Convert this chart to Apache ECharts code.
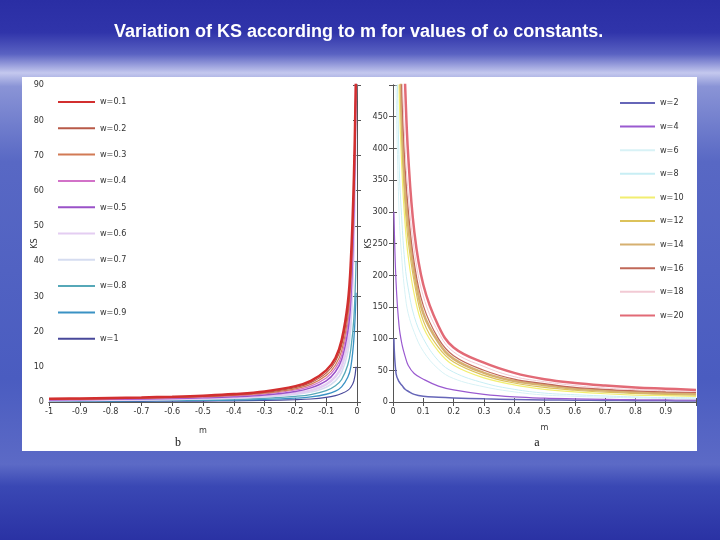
<!DOCTYPE html>
<html>
<head>
<meta charset="utf-8">
<script src="https://cdn.jsdelivr.net/npm/echarts@6/dist/echarts.min.js"></script>
<style>
  html, body { margin: 0; padding: 0; }
  #chart { width: 720px; height: 540px; }
</style>
</head>
<body>
<div id="chart"></div>
<script>
// KS vs m, two panels (b: m < 0, a: m > 0)

const TITLE = 'Variation of KS according to m for values of \u03c9 constants.';

// panel b : m from -1 to 0
const mLeft = [-1, -0.9, -0.8, -0.7, -0.6, -0.5, -0.4, -0.3, -0.2, -0.15, -0.1, -0.07, -0.05, -0.03, -0.02, -0.01, -0.003];
const wLeft = ['w=0.1', 'w=0.2', 'w=0.3', 'w=0.4', 'w=0.5', 'w=0.6', 'w=0.7', 'w=0.8', 'w=0.9', 'w=1'];
const ksW01 = [0.9, 1.0, 1.13, 1.29, 1.5, 1.8, 2.25, 3.0, 4.5, 6.0, 9.0, 12.5, 17.5, 28, 40, 64, 95];
const ksW02 = [0.82, 0.91, 1.03, 1.17, 1.37, 1.64, 2.05, 2.73, 4.1, 5.5, 8.2, 11.5, 16, 26, 37, 62, 95];
const ksW03 = [0.75, 0.83, 0.94, 1.07, 1.25, 1.5, 1.88, 2.5, 3.75, 5.0, 7.5, 10.5, 14.5, 24, 35, 60, 95];
const ksW04 = [0.68, 0.76, 0.85, 0.97, 1.13, 1.36, 1.7, 2.27, 3.4, 4.5, 6.8, 9.6, 13.2, 22, 32, 57, 94];
const ksW05 = [0.6, 0.67, 0.75, 0.86, 1.0, 1.2, 1.5, 2.0, 3.0, 4.0, 6.0, 8.6, 12, 20, 29, 54, 93];
const ksW06 = [0.5, 0.56, 0.63, 0.71, 0.83, 1.0, 1.25, 1.67, 2.5, 3.3, 5.0, 7.2, 10, 17, 25, 50, 92];
const ksW07 = [0.42, 0.47, 0.53, 0.6, 0.7, 0.84, 1.05, 1.4, 2.1, 2.8, 4.2, 6.0, 8.4, 14, 21, 45, 91];
const ksW08 = [0.32, 0.36, 0.4, 0.46, 0.53, 0.64, 0.8, 1.07, 1.6, 2.1, 3.2, 4.6, 6.4, 10.5, 15, 24, 40];
const ksW09 = [0.22, 0.24, 0.28, 0.31, 0.37, 0.44, 0.55, 0.73, 1.1, 1.45, 2.2, 3.1, 4.3, 7, 10, 18, 31];
const ksW10 = [0.15, 0.16, 0.18, 0.2, 0.23, 0.27, 0.33, 0.45, 0.65, 0.85, 1.3, 1.8, 2.4, 3.3, 4.2, 6, 10];

// panel a : m from 0 to 1 (null = off the top of the plot)
const mRight = [0.003, 0.01, 0.02, 0.03, 0.04, 0.05, 0.07, 0.1, 0.15, 0.2, 0.3, 0.4, 0.5, 0.6, 0.7, 0.8, 0.9, 1.0];
const wRight = ['w=2', 'w=4', 'w=6', 'w=8', 'w=10', 'w=12', 'w=14', 'w=16', 'w=18', 'w=20'];
const ksW2  = [100, 45, 32, 26, 20, 17, 12, 9, 7.5, 6.5, 5, 4, 3.2, 2.8, 2.4, 2, 1.8, 1.5];
const ksW4  = [300, 190, 120, 90, 72, 58, 45, 36, 25, 19, 12, 8, 6, 5, 4.2, 3.6, 3.2, 3];
const ksW6  = [null, 500, 300, 220, 170, 140, 110, 80, 52, 37, 24, 16, 11, 9, 7.5, 6.5, 5.5, 5];
const ksW8  = [null, 650, 380, 280, 215, 180, 135, 100, 65, 47, 30, 20, 14, 11.5, 9.5, 8, 7, 6.5];
const ksW10r = [null, 900, 500, 360, 280, 230, 170, 118, 80, 58, 38, 27, 20, 16, 13, 11, 10, 9];
const ksW12 = [null, null, 560, 400, 310, 255, 190, 128, 86, 63, 42, 30, 23, 18.5, 15.5, 13.5, 12, 11];
const ksW14 = [null, null, 620, 440, 340, 280, 205, 140, 94, 68, 46, 33, 26.5, 21, 18, 15.5, 14, 13];
const ksW16 = [null, null, 700, 480, 370, 305, 220, 152, 100, 73, 50, 36, 29, 23, 20, 17.5, 16, 15];
const ksW18 = [null, null, 780, 530, 400, 330, 240, 167, 110, 79, 56, 40, 32, 26, 22, 19.5, 18, 17];
const ksW20 = [null, null, 900, 640, 500, 390, 270, 185, 120, 86, 62, 46, 36, 30, 26, 23, 21, 19];

const leftVals = [ksW01, ksW02, ksW03, ksW04, ksW05, ksW06, ksW07, ksW08, ksW09, ksW10];
const rightVals = [ksW2, ksW4, ksW6, ksW8, ksW10r, ksW12, ksW14, ksW16, ksW18, ksW20];

const leftColors = ['#d22f2f', '#b85a48', '#d27a55', '#d272c8', '#9a52c8', '#e4cdf2', '#d5dcf0', '#56a8b8', '#3a92c4', '#48489a'];
const leftWidths = [2.5, 1.2, 1.2, 1.2, 1.5, 2.5, 1.5, 1.3, 1.3, 1.2];
const rightColors = ['#6666b8', '#9a5ad0', '#d8f2f6', '#c8eef4', '#f2ee70', '#dcc25a', '#d6b070', '#c06858', '#f2cad4', '#e26a76'];
const rightWidths = [1.5, 1.2, 1, 1, 1.2, 1.2, 2.5, 1.2, 1, 2.5];

const FONT = '"Liberation Sans Narrow", "DejaVu Sans Condensed", "Liberation Sans", sans-serif';
const AX = '#555';

function pairs(xs, ys) {
  return xs.map((x, i) => [x, ys[i]]);
}

function fmt(v) {
  return String(Math.round(v * 10) / 10);
}

function axisPair(kind, idx, opts) {
  // main axis with labels plus a mirrored one for the box ticks
  const base = {
    type: 'value',
    gridIndex: idx,
    min: opts.min, max: opts.max, interval: opts.interval,
    axisLine: { show: true, lineStyle: { color: AX, width: 1 } },
    axisTick: { show: true, inside: true, length: 4, lineStyle: { color: AX } },
    splitLine: { show: false },
  };
  const main = Object.assign({}, base, {
    position: kind === 'x' ? 'bottom' : 'left',
    name: opts.name,
    nameLocation: 'middle',
    nameGap: opts.nameGap,
    nameMoveOverlap: false,
    nameTextStyle: { fontFamily: FONT, fontSize: 9, color: '#333' },
    axisLabel: { fontFamily: FONT, fontSize: 9, color: '#333', margin: 5, formatter: opts.formatter },
  });
  const mirror = Object.assign({}, base, {
    position: kind === 'x' ? 'top' : 'right',
    axisLabel: { show: false },
  });
  return [main, mirror];
}

const xL = axisPair('x', 0, { min: -1, max: 0, interval: 0.1, name: 'm', nameGap: 24, formatter: fmt });
const xR = axisPair('x', 1, { min: 0, max: 1, interval: 0.1, name: 'm', nameGap: 21,
  formatter: v => (v >= 0.999 ? '' : fmt(v)) });
const yL = axisPair('y', 0, { min: 0, max: 90, interval: 10, name: 'KS', nameGap: 10, formatter: fmt });
const yR = axisPair('y', 1, { min: 0, max: 500, interval: 50, name: 'KS', nameGap: 20,
  formatter: v => (v >= 500 ? '' : String(v)) });

const series = [];
wLeft.forEach((name, i) => {
  series.push({
    name, type: 'line', xAxisIndex: 0, yAxisIndex: 0,
    data: pairs(mLeft, leftVals[i]),
    symbol: 'none', smooth: 0.4, clip: true,
    lineStyle: { color: leftColors[i], width: leftWidths[i] },
    itemStyle: { color: leftColors[i] },
    z: 20 - i,
  });
});
wRight.forEach((name, i) => {
  series.push({
    name, type: 'line', xAxisIndex: 2, yAxisIndex: 2,
    data: pairs(mRight, rightVals[i]),
    symbol: 'none', smooth: 0.4, clip: true,
    lineStyle: { color: rightColors[i], width: rightWidths[i] },
    itemStyle: { color: rightColors[i] },
    z: 10 + i,
  });
});

function legendItems(names, colors) {
  return names.map((name, i) => ({ name, icon: 'rect', itemStyle: { color: colors[i] } }));
}

const chart = echarts.init(document.getElementById('chart'));
chart.setOption({
  animation: false,
  backgroundColor: {
    type: 'linear', x: 0, y: 0, x2: 0, y2: 1,
    colorStops: [
      { offset: 0, color: '#2a2ea4' },
      { offset: 0.06, color: '#3034aa' },
      { offset: 0.1, color: '#5a62c2' },
      { offset: 0.135, color: '#c4c8ee' },
      { offset: 0.16, color: '#8a94d6' },
      { offset: 0.3, color: '#5868c4' },
      { offset: 0.7, color: '#4a5cc0' },
      { offset: 0.86, color: '#5c6ac6' },
      { offset: 0.9, color: '#3a48b4' },
      { offset: 1, color: '#2a32a4' },
    ],
  },
  title: {
    text: TITLE,
    left: 109,
    top: 18,
    textStyle: { color: '#ffffff', fontFamily: '"Liberation Sans", Arial, sans-serif', fontSize: 18, fontWeight: 'bold' },
  },
  graphic: [
    { type: 'rect', shape: { x: 22, y: 77, width: 675, height: 374 }, style: { fill: '#ffffff' }, z: -10 },
    { type: 'text', x: 178, y: 443, style: { text: 'b', fill: '#111', font: '12px "Liberation Serif", serif', align: 'center', verticalAlign: 'middle' } },
    { type: 'text', x: 537, y: 443, style: { text: 'a', fill: '#111', font: '12px "Liberation Serif", serif', align: 'center', verticalAlign: 'middle' } },
  ],
  grid: [
    { left: 49, top: 85, width: 308, height: 317 },
    { left: 393, top: 85, width: 303, height: 317 },
  ],
  xAxis: [xL[0], xL[1], xR[0], xR[1]],
  yAxis: [yL[0], yL[1], yR[0], yR[1]],
  legend: [
    {
      data: legendItems(wLeft, leftColors), orient: 'vertical', left: 58, top: 97, padding: 0,
      itemWidth: 37, itemHeight: 2, itemGap: 16.3,
      textStyle: { fontFamily: FONT, fontSize: 9, lineHeight: 10, color: '#333' },
    },
    {
      data: legendItems(wRight, rightColors), orient: 'vertical', left: 620, top: 98, padding: 0,
      itemWidth: 35, itemHeight: 2, itemGap: 13.6,
      textStyle: { fontFamily: FONT, fontSize: 9, lineHeight: 10, color: '#333' },
    },
  ],
  series,
});
window.addEventListener('resize', () => chart.resize());
</script>
</body>
</html>
